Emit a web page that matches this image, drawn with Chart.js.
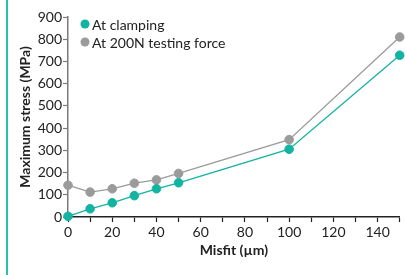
<!DOCTYPE html>
<html>
<head>
<meta charset="utf-8">
<script src="https://cdn.jsdelivr.net/npm/chart.js@4"></script>
<style>
    html, body { margin: 0; padding: 0; background: #ffffff; }
    #wrap { position: relative; width: 405px; height: 275px; }
    #edge { position: absolute; left: 6px; top: 0; width: 2px; height: 275px; background: #2bbfae; }
    #myChart { position: absolute; left: 0; top: 0; }
</style>
</head>
<body>
<div id="wrap">
    <div id="edge"></div>
    <canvas id="myChart" width="405" height="275"></canvas>
</div>
<script>
//misfit values (µm) and the stress (MPa)
const misfit = [0, 10, 20, 30, 40, 50, 100, 150];
const clampingStress = [3, 37, 64, 96, 127, 154, 305, 728];
const testingStress = [143, 112, 127, 152, 167, 196, 348, 810];
const seriesNames = ['At clamping', 'At 200N testing force'];
const seriesColours = ['#12b3a1', '#9b9b9c'];
const xLabelStep = 20;

const FONT = 'Lato, "Open Sans", sans-serif';

//legend sits inside the plot, top left, one item per row
const insideLegend =
{
    id: 'insideLegend',
    afterDraw: function (chart)
    {
        const ctx = chart.ctx;
        const area = chart.chartArea;
        ctx.save();
        ctx.font = '14px ' + FONT;
        ctx.textBaseline = 'middle';
        ctx.textAlign = 'left';
        chart.data.datasets.forEach(function (ds, i)
        {
            var y = area.top + 7 + i * 18;
            ctx.beginPath();
            ctx.fillStyle = ds.backgroundColor;
            ctx.arc(area.left + 17, y, 4.5, 0, Math.PI * 2);
            ctx.fill();
            ctx.fillStyle = '#222222';
            ctx.fillText(ds.label, area.left + 24, y + 1);
        });
        ctx.restore();
    }
};

function ToPoints (_xs, _ys)
{
    var points = [];
    for (var i = 0; i < _xs.length; i++)
    {
        points.push({ x: _xs[i], y: _ys[i] });
    }
    return points;
}

function MakeDataset (_label, _values, _colour)
{
    return {
        label: _label,
        data: ToPoints(misfit, _values),
        borderColor: _colour,
        backgroundColor: _colour,
        borderWidth: 1.3,
        pointRadius: 4.3,
        pointBorderWidth: 1,
        pointBorderColor: _colour,
        pointBackgroundColor: _colour,
        tension: 0,
        clip: false
    };
}

function DrawGraph ()
{
    const data =
    {
        datasets:
        [
            MakeDataset(seriesNames[0], clampingStress, seriesColours[0]),
            MakeDataset(seriesNames[1], testingStress, seriesColours[1])
        ]
    };

    const config =
    {
        type: 'line',
        data: data,
        plugins: [insideLegend],
        options:
        {
            responsive: false,
            animation: false,
            layout:
            {
                padding: { left: 13, right: 5, top: 17, bottom: 12 }
            },
            plugins:
            {
                legend: { display: false },
                tooltip: { enabled: false }
            },
            scales:
            {
                x:
                {
                    type: 'linear',
                    min: 0,
                    max: 150,
                    afterFit: function (scale) { scale.height = 46; },
                    border: { display: true, color: '#222222', width: 1.5 },
                    grid:
                    {
                        drawOnChartArea: false,
                        drawTicks: true,
                        tickLength: 5,
                        tickWidth: 1.2,
                        color: '#222222'
                    },
                    ticks:
                    {
                        stepSize: 10,
                        autoSkip: false,
                        maxRotation: 0,
                        padding: 2,
                        color: '#222222',
                        font: { family: FONT, size: 14 },
                        callback: function (value)
                        {
                            return value % xLabelStep === 0 ? String(value) : '';
                        }
                    },
                    title:
                    {
                        display: true,
                        text: 'Misfit (µm)',
                        color: '#222222',
                        font: { family: FONT, size: 14, weight: 'bold' },
                        padding: { top: 0, bottom: 4 }
                    }
                },
                y:
                {
                    min: 0,
                    max: 900,
                    afterFit: function (scale) { scale.width = 55; },
                    border: { display: true, color: '#7a7a7a', width: 1.5 },
                    grid:
                    {
                        drawOnChartArea: false,
                        drawTicks: true,
                        tickLength: 5,
                        tickWidth: 1.2,
                        color: '#7a7a7a'
                    },
                    ticks:
                    {
                        stepSize: 100,
                        padding: 1,
                        color: '#222222',
                        font: { family: FONT, size: 14 }
                    },
                    title:
                    {
                        display: true,
                        text: 'Maximum stress (MPa)',
                        color: '#222222',
                        font: { family: FONT, size: 14, weight: 'bold' },
                        padding: { top: 4, bottom: 0 }
                    }
                }
            }
        }
    };

    const ctx = document.getElementById('myChart').getContext('2d');
    if (ctx) {
        const myChart = new Chart(ctx, config);
    } else {
        console.error('Element with ID "myChart" not found.');
    }
}

DrawGraph();
</script>
</body>
</html>
